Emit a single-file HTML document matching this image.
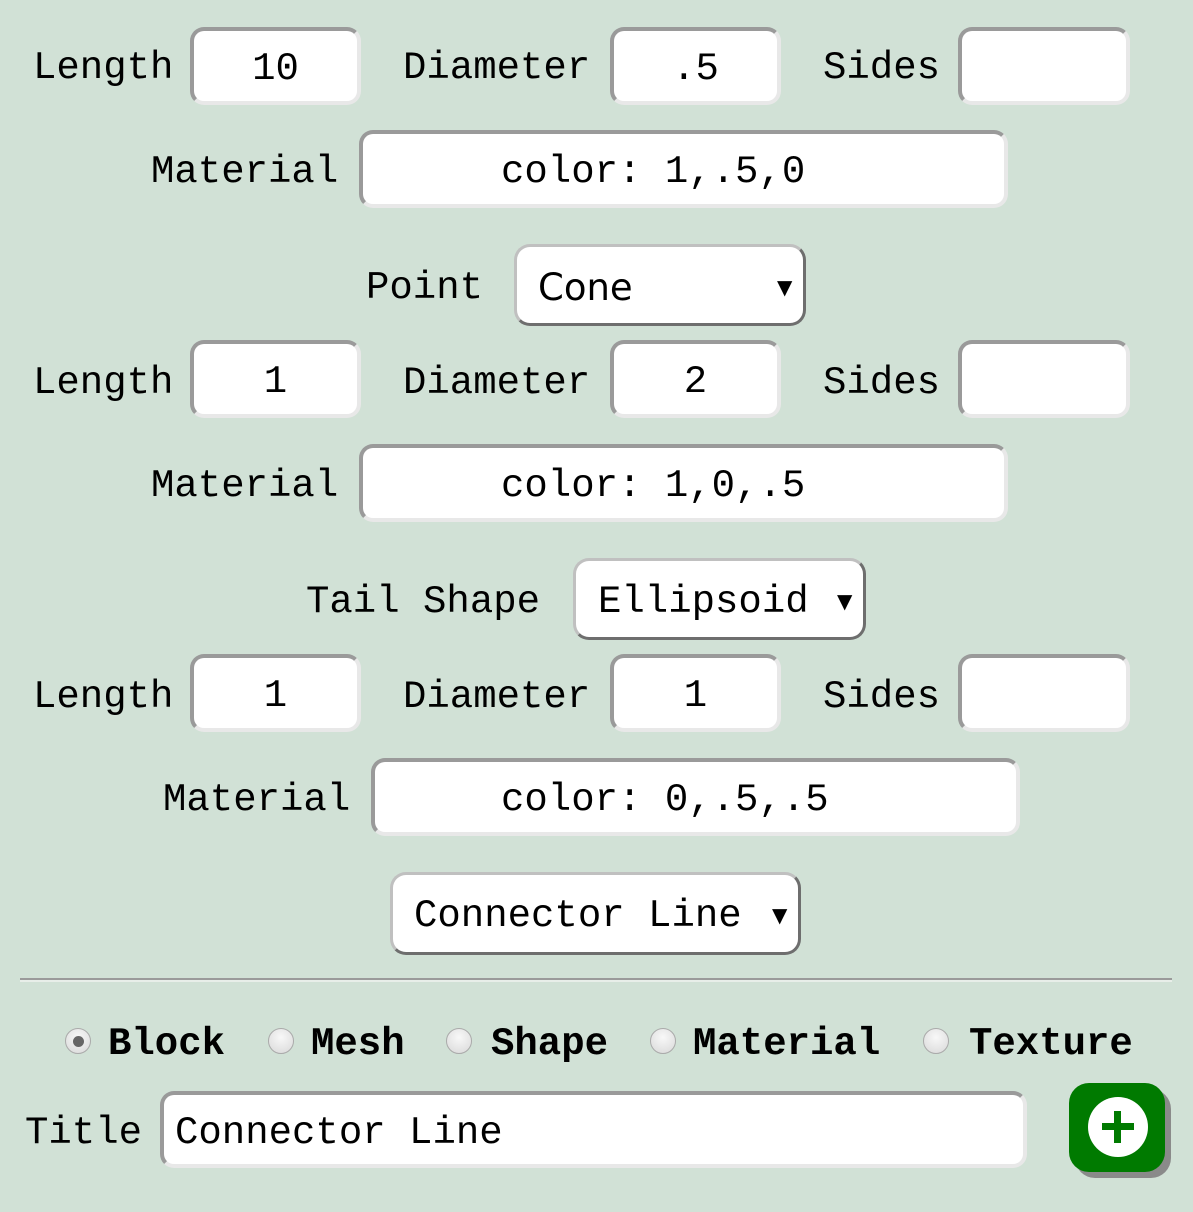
<!DOCTYPE html>
<html><head><meta charset="utf-8"><style>
html,body{margin:0;padding:0}
body{width:1193px;height:1212px;background:#d1e1d6;position:relative;overflow:hidden;font-family:"Liberation Mono","DejaVu Sans Mono",monospace;font-size:39px;color:#000}
.t{position:absolute;height:50px;line-height:50px;white-space:pre}
.in{position:absolute;box-sizing:border-box;background:#fff;border-radius:14px;border-style:solid;border-width:4px;border-color:#9a9a9a #e8e8e8 #e8e8e8 #9a9a9a;text-align:center;white-space:pre}
.sel{position:absolute;box-sizing:border-box;background:#fff;border-radius:16px;border-style:solid;border-width:3px;border-color:#c0c0c0 #6e6e6e #6e6e6e #c0c0c0;white-space:pre}
.arr{position:absolute;font-size:20px;font-family:"DejaVu Sans",sans-serif}
.rad{position:absolute;width:26px;height:26px;border-radius:50%;box-sizing:border-box;border:1px solid #aaa;background:radial-gradient(circle at 50% 35%,#f8f8f8,#d8d8d8)}
.b{position:absolute;height:50px;line-height:50px;font-weight:bold}
.c{position:absolute;height:50px;line-height:50px;white-space:pre}
</style></head><body>

<!-- row 1 -->
<div class="t" style="left:33px;top:43px">Length</div>
<div class="in" style="left:190px;top:27px;width:171px;height:78px;line-height:76px">10</div>
<div class="t" style="left:403px;top:43px">Diameter</div>
<div class="in" style="left:610px;top:27px;width:171px;height:78px;line-height:76px">.5</div>
<div class="t" style="left:823px;top:43px">Sides</div>
<div class="in" style="left:958px;top:27px;width:172px;height:78px"></div>
<div class="t" style="left:151px;top:147px">Material</div>
<div class="in" style="left:359px;top:130px;width:649px;height:78px"></div>
<div class="c" style="left:501px;top:147px">color: 1,.5,0</div>

<div class="t" style="left:366px;top:263px">Point</div>
<div class="sel" style="left:514px;top:244px;width:292px;height:82px"></div>
<div class="t" style="left:538px;top:263px;font-family:'DejaVu Sans',sans-serif;font-size:37px">Cone</div>
<div class="arr" style="left:777px;top:275px">▼</div>

<!-- row 2 -->
<div class="t" style="left:33px;top:358px">Length</div>
<div class="in" style="left:190px;top:340px;width:171px;height:78px;line-height:76px">1</div>
<div class="t" style="left:403px;top:358px">Diameter</div>
<div class="in" style="left:610px;top:340px;width:171px;height:78px;line-height:76px">2</div>
<div class="t" style="left:823px;top:358px">Sides</div>
<div class="in" style="left:958px;top:340px;width:172px;height:78px"></div>
<div class="t" style="left:151px;top:461px">Material</div>
<div class="in" style="left:359px;top:444px;width:649px;height:78px"></div>
<div class="c" style="left:501px;top:461px">color: 1,0,.5</div>

<div class="t" style="left:306px;top:577px">Tail Shape</div>
<div class="sel" style="left:573px;top:558px;width:293px;height:82px"></div>
<div class="t" style="left:598px;top:577px">Ellipsoid</div>
<div class="arr" style="left:837px;top:589px">▼</div>

<!-- row 3 -->
<div class="t" style="left:33px;top:672px">Length</div>
<div class="in" style="left:190px;top:654px;width:171px;height:78px;line-height:76px">1</div>
<div class="t" style="left:403px;top:672px">Diameter</div>
<div class="in" style="left:610px;top:654px;width:171px;height:78px;line-height:76px">1</div>
<div class="t" style="left:823px;top:672px">Sides</div>
<div class="in" style="left:958px;top:654px;width:172px;height:78px"></div>
<div class="t" style="left:163px;top:775px">Material</div>
<div class="in" style="left:371px;top:758px;width:649px;height:78px"></div>
<div class="c" style="left:501px;top:775px">color: 0,.5,.5</div>

<div class="sel" style="left:390px;top:872px;width:411px;height:83px"></div>
<div class="t" style="left:414px;top:891px">Connector Line</div>
<div class="arr" style="left:772px;top:903px">▼</div>

<div style="position:absolute;left:20px;top:978px;width:1152px;height:2px;background:#9a9a9a"></div>
<div style="position:absolute;left:20px;top:980px;width:1152px;height:2px;background:#e8eee9"></div>

<!-- radios -->
<div class="rad" style="left:65px;top:1028px"><div style="position:absolute;left:7px;top:7px;width:11px;height:11px;border-radius:50%;background:#666"></div></div>
<div class="b" style="left:108px;top:1019px">Block</div>
<div class="rad" style="left:268px;top:1028px"></div>
<div class="b" style="left:311px;top:1019px">Mesh</div>
<div class="rad" style="left:446px;top:1028px"></div>
<div class="b" style="left:491px;top:1019px">Shape</div>
<div class="rad" style="left:650px;top:1028px"></div>
<div class="b" style="left:693px;top:1019px">Material</div>
<div class="rad" style="left:923px;top:1028px"></div>
<div class="b" style="left:969px;top:1019px">Texture</div>

<div class="t" style="left:25px;top:1108px">Title</div>
<div class="in" style="left:160px;top:1091px;width:867px;height:77px;line-height:76px;text-align:left;padding-left:11px">Connector Line</div>

<div style="position:absolute;left:1075px;top:1089px;width:96px;height:89px;border-radius:20px;background:#8a8a8a"></div>
<div style="position:absolute;left:1069px;top:1083px;width:96px;height:89px;border-radius:20px;background:#007a00"></div>
<div style="position:absolute;left:1088px;top:1097px;width:60px;height:60px;border-radius:50%;background:#fff"></div>
<div style="position:absolute;left:1102px;top:1123px;width:32px;height:7px;background:#007a00"></div>
<div style="position:absolute;left:1114px;top:1111px;width:7px;height:32px;background:#007a00"></div>
</body></html>
